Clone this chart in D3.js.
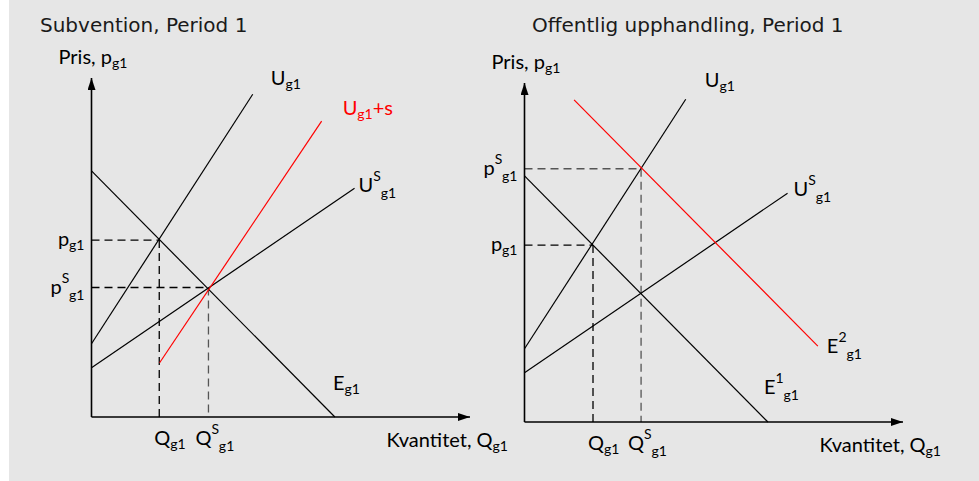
<!DOCTYPE html>
<html>
<head>
<meta charset="utf-8">
<script src="https://cdn.jsdelivr.net/npm/d3@7"></script>
<style>
  html, body { margin: 0; padding: 0; background: #fff; }
</style>
</head>
<body>
<div id="chart"></div>
<script>
// line endpoints in model units (0..100 on both axes)
const demandE1 = [[0, 72.6], [64.3, 0]];
const supplyU = [[0, 21.6], [42.6, 95.2]];
const supplyUS = [[0, 14.5], [69.5, 67.5]];
const supplyUplusS = [[18, 16], [60.8, 87.3]];
const demandE2 = [[13.1, 95], [77.5, 22.4]];

// equilibrium guides: [quantity, price]
const subventionEq = [[17.9, 52.2], [30.9, 38.2]];
const upphandlingEq = [[18.1, 52.2], [30.8, 74.7]];

const titles = ["Subvention, Period 1", "Offentlig upphandling, Period 1"];
const yAxisLabel = [["Pris, p"], ["g1", "sub"]];
const xAxisLabel = [["Kvantitet, Q"], ["g1", "sub"]];

const width = 979, height = 481;
const labelFont = "Lato, 'Open Sans', sans-serif";
const titleFont = "'DejaVu Sans', Verdana, sans-serif";

const svg = d3.select("#chart").append("svg")
  .attr("width", width)
  .attr("height", height);

svg.append("rect")
  .attr("x", 9).attr("y", 0)
  .attr("width", width - 9).attr("height", height)
  .attr("fill", "#e6e6e6");

svg.append("defs").append("marker")
  .attr("id", "arrow")
  .attr("viewBox", "0 0 12 8")
  .attr("refX", 12).attr("refY", 4)
  .attr("markerWidth", 12).attr("markerHeight", 8)
  .attr("markerUnits", "userSpaceOnUse")
  .attr("orient", "auto")
  .append("path")
  .attr("d", "M0,0 L12,4 L0,8 Z")
  .attr("fill", "#000");

// writes a label made of normal / sub / sup pieces
function label(g, x, y, parts, color, anchor) {
  const hasSup = parts.some(p => p[1] === "sup");
  const t = g.append("text")
    .attr("x", x).attr("y", y)
    .attr("font-family", labelFont)
    .attr("font-size", 20)
    .attr("fill", color || "#000")
    .attr("text-anchor", anchor || "start");
  let shift = 0;
  parts.forEach(([s, kind]) => {
    const target = kind === "sup" ? -11 : kind === "sub" ? (hasSup ? 6 : 4) : 0;
    t.append("tspan")
      .attr("dy", target - shift)
      .attr("font-size", kind ? 14 : 20)
      .text(s);
    shift = target;
  });
}

const panels = [
  {
    title: titles[0], titleX: 40,
    xRange: [91.5, 470], yRange: [417, 78],
    curves: [
      { pts: demandE1, color: "#000", lab: [["E"], ["g1", "sub"]], labColor: "#000", dx: -2, dy: -27 },
      { pts: supplyU, color: "#000", lab: [["U"], ["g1", "sub"]], labColor: "#000", dx: 18, dy: -9 },
      { pts: supplyUS, color: "#000", lab: [["U"], ["S", "sup"], ["g1", "sub"]], labColor: "#000", dx: 4, dy: 4 },
      { pts: supplyUplusS, color: "#ff0000", lab: [["U"], ["g1", "sub"], ["+s"]], labColor: "#ff0000", dx: 21, dy: -6 }
    ],
    eq: subventionEq,
    guideColors: [["#000", "#000"], ["#000", "#555"]],
    pLabels: [[["p"], ["g1", "sub"]], [["p"], ["S", "sup"], ["g1", "sub"]]],
    qLabels: [[["Q"], ["g1", "sub"]], [["Q"], ["S", "sup"], ["g1", "sub"]]]
  },
  {
    title: titles[1], titleX: 532,
    xRange: [524.5, 903], yRange: [422, 83],
    curves: [
      { pts: demandE1, color: "#000", lab: [["E"], ["1", "sup"], ["g1", "sub"]], labColor: "#000", dx: -4, dy: -28 },
      { pts: supplyU, color: "#000", lab: [["U"], ["g1", "sub"]], labColor: "#000", dx: 19, dy: -12 },
      { pts: supplyUS, color: "#000", lab: [["U"], ["S", "sup"], ["g1", "sub"]], labColor: "#000", dx: 6, dy: 3 },
      { pts: demandE2, color: "#ff0000", lab: [["E"], ["2", "sup"], ["g1", "sub"]], labColor: "#000", dx: 9, dy: 7 }
    ],
    eq: upphandlingEq,
    guideColors: [["#000", "#000"], ["#555", "#555"]],
    pLabels: [[["p"], ["g1", "sub"]], [["p"], ["S", "sup"], ["g1", "sub"]]],
    qLabels: [[["Q"], ["g1", "sub"]], [["Q"], ["S", "sup"], ["g1", "sub"]]]
  }
];

panels.forEach(panel => {
  const x = d3.scaleLinear().domain([0, 100]).range(panel.xRange);
  const y = d3.scaleLinear().domain([0, 100]).range(panel.yRange);
  const line = d3.line().x(d => x(d[0])).y(d => y(d[1]));
  const g = svg.append("g");

  // title
  g.append("text")
    .attr("x", panel.titleX).attr("y", 32)
    .attr("font-family", titleFont)
    .attr("font-size", 20)
    .attr("fill", "#1a1a1a")
    .text(panel.title);

  // dashed guides
  panel.eq.forEach((d, i) => {
    g.append("path")
      .attr("d", line([[0, d[1]], d]))
      .attr("stroke", panel.guideColors[i][0])
      .attr("stroke-width", 1.3)
      .attr("stroke-dasharray", "8,5")
      .attr("fill", "none");
    g.append("path")
      .attr("d", line([d, [d[0], 0]]))
      .attr("stroke", panel.guideColors[i][1])
      .attr("stroke-width", 1.3)
      .attr("stroke-dasharray", "8,5")
      .attr("fill", "none");
  });

  // curves
  g.selectAll("path.curve")
    .data(panel.curves)
    .join("path")
    .attr("class", "curve")
    .attr("d", d => line(d.pts))
    .attr("stroke", d => d.color)
    .attr("stroke-width", 1.2)
    .attr("fill", "none");

  // axes
  g.append("path")
    .attr("d", line([[0, 0], [0, 100]]))
    .attr("stroke", "#000").attr("stroke-width", 1.6)
    .attr("marker-end", "url(#arrow)");
  g.append("path")
    .attr("d", line([[0, 0], [100, 0]]))
    .attr("stroke", "#000").attr("stroke-width", 1.6)
    .attr("marker-end", "url(#arrow)");

  // axis labels
  label(g, x(0) - 33, y(100) - 14, yAxisLabel);
  label(g, x(100) + 38, y(0) + 30, xAxisLabel, "#000", "end");

  // curve labels at the upper/right end of each line
  panel.curves.forEach(c => {
    const p = c.pts[1];
    label(g, x(p[0]) + c.dx, y(p[1]) + c.dy, c.lab, c.labColor);
  });

  // price and quantity labels
  panel.eq.forEach((d, i) => {
    label(g, x(0) - 7, y(d[1]) + 6, panel.pLabels[i], "#000", "end");
    label(g, x(d[0]) - (i === 0 ? 5 : 13), y(0) + 28, panel.qLabels[i]);
  });
});
</script>
</body>
</html>
